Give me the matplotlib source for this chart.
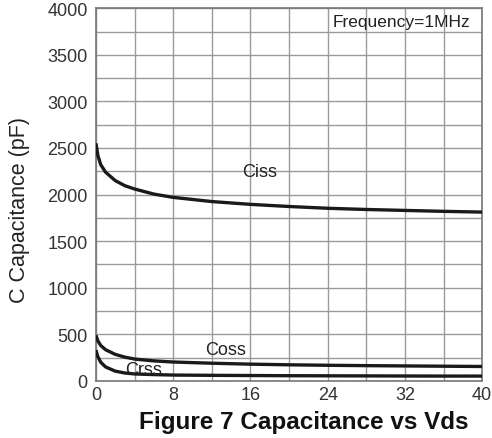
import matplotlib
matplotlib.use("Agg")
import matplotlib.pyplot as plt
import numpy as np

plt.rcParams['font.family'] = ['Liberation Sans', 'DejaVu Sans']

# Vds (V) and capacitances (pF)
vds = [0, 0.2, 0.5, 1, 2, 3, 4, 6, 8, 12, 16, 20, 24, 28, 32, 36, 40]
ciss = [2550, 2420, 2320, 2240, 2150, 2095, 2060, 2005, 1970, 1925, 1895, 1872, 1853, 1840, 1830, 1820, 1812]
coss = [490, 430, 380, 335, 285, 255, 235, 215, 203, 190, 180, 173, 168, 164, 161, 158, 155]
crss = [330, 260, 200, 150, 105, 85, 75, 68, 63, 60, 58, 56, 55, 54, 53, 52, 52]

xticks = [0, 8, 16, 24, 32, 40]
yticks = [0, 500, 1000, 1500, 2000, 2500, 3000, 3500, 4000]

fig = plt.figure(figsize=(4.92, 4.39), dpi=100)
ax = fig.add_axes([0.195, 0.130, 0.785, 0.849])

for v in np.arange(0, 41, 4):
    ax.axvline(v, color='#9a9a9a', linewidth=1.0, zorder=1)
for c in np.arange(0, 4001, 250):
    ax.axhline(c, color='#9a9a9a', linewidth=1.0, zorder=1)

for series in (ciss, coss, crss):
    ax.plot(vds, series, color='#1a1a1a', linewidth=2.4, zorder=3,
            solid_capstyle='butt')

ax.text(17, 2243, 'Ciss', fontsize=13, ha='center', va='center', color='#222222')
ax.text(13.4, 333, 'Coss', fontsize=13, ha='center', va='center', color='#222222')
ax.text(4.9, 120, 'Crss', fontsize=13, ha='center', va='center', color='#222222')
ax.text(38.8, 3860, 'Frequency=1MHz', fontsize=12.5, ha='right', va='center', color='#222222')

ax.set_xlim(0, 40)
ax.set_ylim(0, 4000)
ax.set_xticks(xticks)
ax.set_yticks(yticks)
ax.tick_params(length=0, labelsize=13, colors='#333333')
ax.tick_params(axis='y', pad=6)
ax.tick_params(axis='x', pad=4)
for s in ax.spines.values():
    s.set_color('#777777')
    s.set_linewidth(1.2)

ax.set_ylabel('C Capacitance (pF)', fontsize=15.5, color='#222222')
ax.yaxis.set_label_coords(-0.17, 0.46)
fig.text(0.618, 0.038, 'Figure 7 Capacitance vs Vds', fontsize=17.5,
         fontweight='bold', ha='center', va='center', color='#111111')

fig.savefig('out.png', dpi=100)
